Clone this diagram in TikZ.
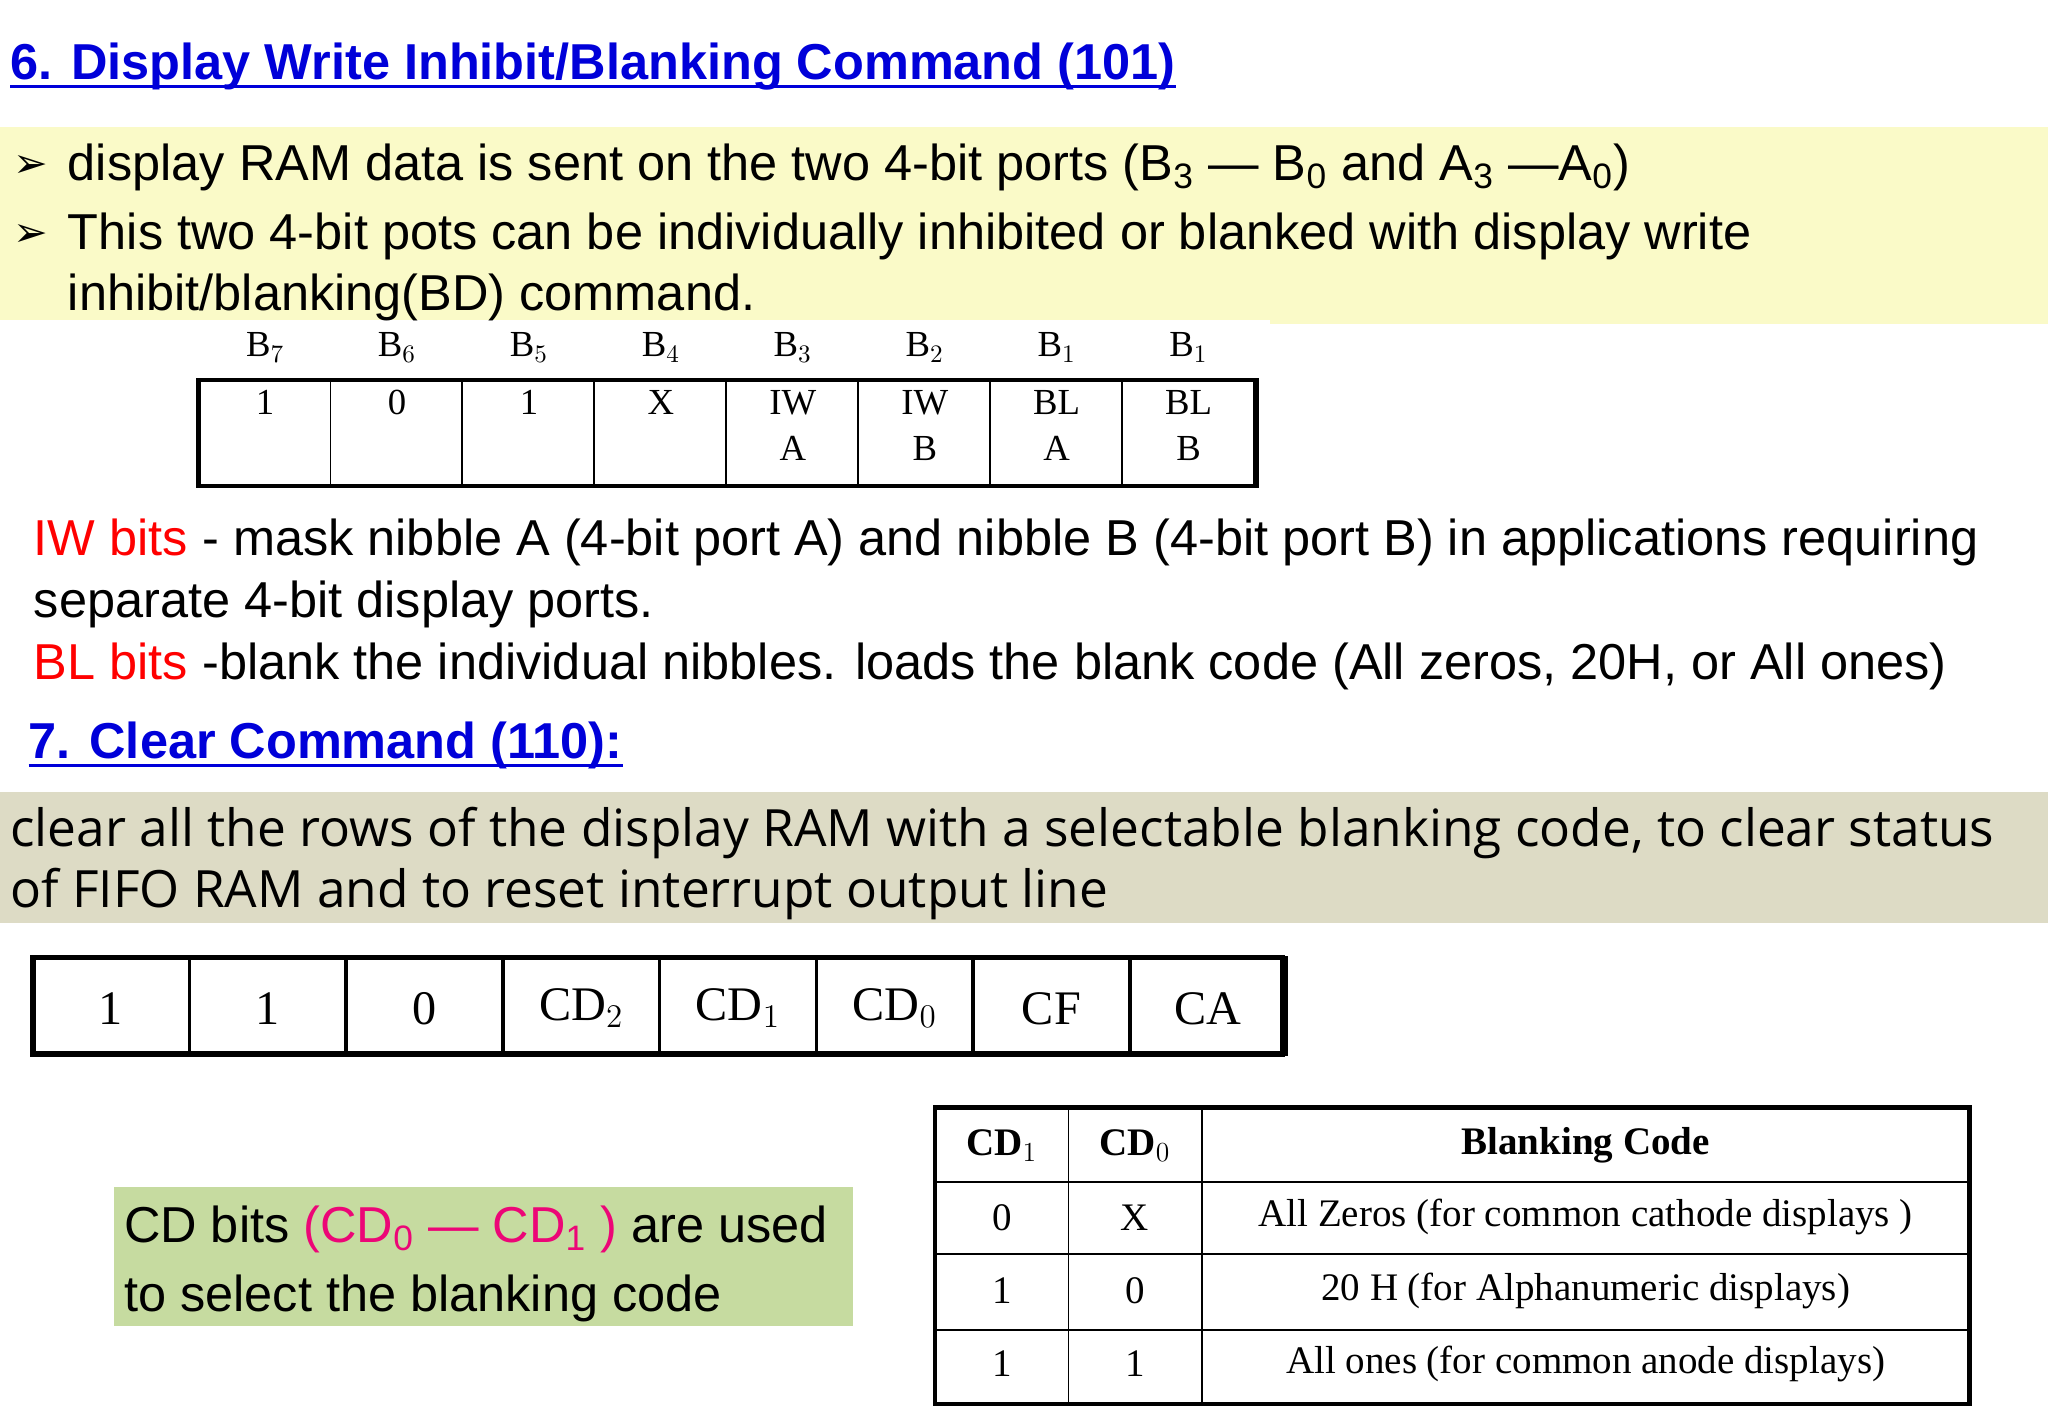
\documentclass[tikz,border=0pt]{standalone}
\usepackage{fontspec}
\setmainfont{Liberation Sans}
\newfontfamily\notofont{Open Sans}
\newfontfamily\scanfont{Liberation Serif}
\definecolor{bandyellow}{RGB}{250,250,200}
\definecolor{bandgrey}{RGB}{221,219,197}
\definecolor{boxgreen}{RGB}{198,219,160}
\begin{document}
\begin{tikzpicture}
[
  x=0.02cm, y=-0.02cm,
  every node/.style={inner sep=0pt, outer sep=0pt},
  head/.style={anchor=base west,font=\fontsize{22}{26}\selectfont\bfseries,text=blue!85!black},
  uline/.style={draw=blue!85!black,line width=1.5pt},
  body/.style={anchor=base west,font=\fontsize{22}{26}\selectfont,align=left},
  scan/.style={font=\scanfont\fontsize{16}{20}\selectfont,align=center}
]
\useasboundingbox (0,0) rectangle (1568,1083);

% bands
\fill[bandyellow] (0,97) rectangle (1568,248);
\fill[white] (0,245) rectangle (972,250);
\fill[bandgrey] (0,606) rectangle (1568,707);
\fill[boxgreen] (87,909) rectangle (653,1015);

\node[head] (title6) at (8,61) {6. Display Write Inhibit/Blanking Command (101)};
\draw[uline] ([yshift=-3pt]title6.base west) -- ([yshift=-3pt]title6.base east);

\node[body] (bul1) at (10,136) {\fontspec{DejaVu Sans}\fontsize{18}{20}\selectfont ➢};
\node[body] (line1) at (52,138) {display RAM data is sent on the two 4-bit ports (B\textsubscript{3} --- B\textsubscript{0} and A\textsubscript{3} ---A\textsubscript{0})};
\node[body] (bul2) at (10,189) {\fontspec{DejaVu Sans}\fontsize{18}{20}\selectfont ➢};
\node[body] (line2) at (52,191) {This two 4-bit pots can be individually inhibited or blanked with display write};
\node[body] (line3) at (52,238) {inhibit/blanking(BD) command.};

% table of bits B7..B0
\foreach \t [count=\i from 0] in {B$_7$,B$_6$,B$_5$,B$_4$,B$_3$,B$_2$,B$_1$,B$_1$} {
  \draw[thick] (152+101*\i,291) rectangle +(101,81);
  \node[scan] (hb\i) at (203+101*\i,266) {\t};
}
\draw[line width=2pt] (152,291) rectangle (962,372);
\foreach \t [count=\i from 0] in {1,0,1,X,{IW\\A},{IW\\B},{BL\\A},{BL\\B}}
  \node[scan,anchor=north] (cb\i) at (203+101*\i,299) {\t};

\node[body] (iw1) at (26,425) {\textcolor{red}{IW bits} - mask nibble A (4-bit port A) and nibble B (4-bit port B) in applications requiring};
\node[body] (iw2) at (26,473) {separate 4-bit display ports.};
\node[body] (bl1) at (26,520) {\textcolor{red}{BL bits} -blank the individual nibbles. loads the blank code (All zeros, 20H, or All ones)};

\node[head] (title7) at (22,581) {7. Clear Command (110):};
\draw[uline] ([yshift=-3pt]title7.base west) -- ([yshift=-3pt]title7.base east);

\node[body,font=\notofont\fontsize{22.4}{26}\selectfont] (clr1) at (8,648) {clear all the rows of the display RAM with a selectable blanking code, to clear status};
\node[body,font=\notofont\fontsize{22.4}{26}\selectfont] (clr2) at (8,695) {of FIFO RAM and to reset interrupt output line};

% clear command bits
\foreach \t [count=\i from 0] in {1,1,0,CD$_2$,CD$_1$,CD$_0$,CF,CA} {
  \draw[line width=1.5pt] (25+120*\i,733) rectangle +(120,74);
  \node[font=\scanfont\fontsize{21}{22}\selectfont] (cc\i) at (85+120*\i,772) {\t};
}
\draw[line width=2.5pt] (25,733) rectangle (982,807);

\node[body] (cd1) at (95,951) {CD bits \textcolor{magenta!80!red}{(CD\textsubscript{0} --- CD\textsubscript{1} )} are used};
\node[body] (cd2) at (95,1004) {to select the blanking code};

% blanking code table
\draw[line width=2pt] (716,848) rectangle (1508,1075);
\foreach \y in {905,960,1018} \draw[thick] (716,\y) -- (1508,\y);
\foreach \x in {818,920} \draw[thick] (\x,848) -- (\x,1075);
\node[scan,font=\scanfont\bfseries\fontsize{17}{20}\selectfont] (hcd1) at (767,877) {CD$_1$};
\node[scan,font=\scanfont\bfseries\fontsize{17}{20}\selectfont] (hcd0) at (869,877) {CD$_0$};
\node[scan,font=\scanfont\bfseries\fontsize{17}{20}\selectfont] (hbc) at (1214,877) {Blanking Code};
\foreach \a/\b/\c [count=\i] in {0/X/All Zeros (for common cathode displays ),1/0/20 H (for Alphanumeric displays),1/1/All ones (for common anode displays)} {
  \node[scan,font=\scanfont\fontsize{17}{20}\selectfont] (ra\i) at (767,876+56*\i) {\a};
  \node[scan,font=\scanfont\fontsize{17}{20}\selectfont] (rb\i) at (869,876+56*\i) {\b};
  \node[scan,font=\scanfont\fontsize{17}{20}\selectfont] (rc\i) at (1214,876+56*\i) {\c};
}
\end{tikzpicture}
\end{document}
